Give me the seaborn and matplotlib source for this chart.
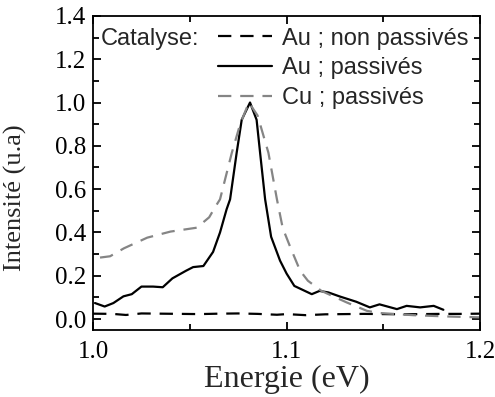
import matplotlib
matplotlib.use("Agg")
from matplotlib import pyplot as plt
from matplotlib.ticker import FormatStrFormatter
import seaborn as sns
import pandas as pd

# Au ; passivés (solid black)
au_pass_x = [1.001, 1.006, 1.0105, 1.0157, 1.020, 1.025, 1.031, 1.036, 1.041, 1.048, 1.0517, 1.057,
             1.062, 1.0656, 1.069, 1.0708, 1.0742, 1.0768, 1.0811, 1.0845, 1.0863,
             1.0889, 1.092, 1.0966, 1.100, 1.104, 1.113, 1.117, 1.1216, 1.1276, 1.136, 1.143,
             1.148, 1.157, 1.162, 1.169, 1.176, 1.181]
au_pass_y = [0.074, 0.058, 0.074, 0.105, 0.115, 0.150, 0.150, 0.147, 0.188, 0.223, 0.240, 0.245,
             0.310, 0.400, 0.507, 0.553, 0.768, 0.920, 1.000, 0.920, 0.768,
             0.553, 0.380, 0.270, 0.210, 0.153, 0.115, 0.130, 0.123, 0.104, 0.080, 0.054,
             0.068, 0.046, 0.061, 0.054, 0.061, 0.043]

# Cu ; passivés (dashed grey)
cu_pass_x = [1.0036, 1.0088, 1.016, 1.028, 1.040, 1.0536, 1.060, 1.063, 1.0656, 1.0717, 1.076,
             1.0805, 1.085, 1.0906, 1.095, 1.098, 1.102, 1.107, 1.111, 1.118, 1.131, 1.1415,
             1.148, 1.1655, 1.183, 1.200]
cu_pass_y = [0.284, 0.290, 0.327, 0.376, 0.404, 0.422, 0.470, 0.516, 0.553, 0.768, 0.900,
             1.000, 0.940, 0.768, 0.553, 0.420, 0.330, 0.223, 0.177, 0.130, 0.077, 0.038,
             0.028, 0.018, 0.012, 0.008]

# Au ; non passivés (dashed black)
au_np_x = [1.000, 1.010, 1.017, 1.025, 1.035, 1.045, 1.055, 1.065, 1.075, 1.085, 1.095, 1.100,
           1.110, 1.120, 1.130, 1.140, 1.150, 1.160, 1.170, 1.180, 1.190, 1.200]
au_np_y = [0.025, 0.024, 0.019, 0.026, 0.025, 0.024, 0.023, 0.025, 0.026, 0.024, 0.020, 0.023,
           0.018, 0.022, 0.023, 0.024, 0.023, 0.022, 0.023, 0.024, 0.024, 0.025]

sns.set_style("ticks")
plt.rcParams['font.family'] = ['Liberation Serif', 'DejaVu Serif']

fig = plt.figure(figsize=(4.95, 3.97), dpi=100)
ax = fig.add_axes([0.188, 0.169, 0.782, 0.791])

df_np = pd.DataFrame({"x": au_np_x, "y": au_np_y})
df_au = pd.DataFrame({"x": au_pass_x, "y": au_pass_y})
df_cu = pd.DataFrame({"x": cu_pass_x, "y": cu_pass_y})

sns.lineplot(data=df_np, x="x", y="y", ax=ax, color="black", lw=1.6,
             linestyle=(0, (6, 4)), label="Au ; non passivés")
sns.lineplot(data=df_au, x="x", y="y", ax=ax, color="black", lw=1.6, label="Au ; passivés")
sns.lineplot(data=df_cu, x="x", y="y", ax=ax, color="#858585", lw=1.6,
             linestyle=(0, (6, 4)), label="Cu ; passivés")

ax.set_xlim(1.0, 1.2)
ax.set_ylim(-0.05, 1.4)
ax.set_xticks([1.0, 1.1, 1.2])
ax.set_xticks([1.05, 1.15], minor=True)
ax.set_yticks([0.0, 0.2, 0.4, 0.6, 0.8, 1.0, 1.2, 1.4])
ax.set_yticks([0.1, 0.3, 0.5, 0.7, 0.9, 1.1, 1.3], minor=True)
ax.xaxis.set_major_formatter(FormatStrFormatter('%.1f'))
ax.yaxis.set_major_formatter(FormatStrFormatter('%.1f'))
ax.tick_params(which="both", direction="in", top=True, right=True, width=1.3,
               labelsize=18, colors="black")
ax.tick_params(which="major", length=6)
ax.tick_params(which="minor", length=4)
ax.tick_params(axis="x", which="major", pad=8)
ax.tick_params(axis="y", which="major", pad=5)
for s in ax.spines.values():
    s.set_linewidth(1.3)
    s.set_color("black")

ax.set_xlabel("Energie (eV)", fontsize=23, labelpad=1)
ax.set_ylabel("Intensité (u.a)", fontsize=19)
ax.yaxis.set_label_coords(-0.17, 0.42)

leg = ax.legend(loc="upper right", frameon=False, handlelength=2.3,
                handletextpad=0.4, labelspacing=0.33, borderaxespad=0.3, borderpad=0.2,
                prop={"family": "Liberation Sans", "size": 17})
ax.text(0.02, 0.962, "Catalyse:", transform=ax.transAxes, ha="left", va="top",
        fontsize=17, family="Liberation Sans")

fig.savefig("out.png", dpi=100)
